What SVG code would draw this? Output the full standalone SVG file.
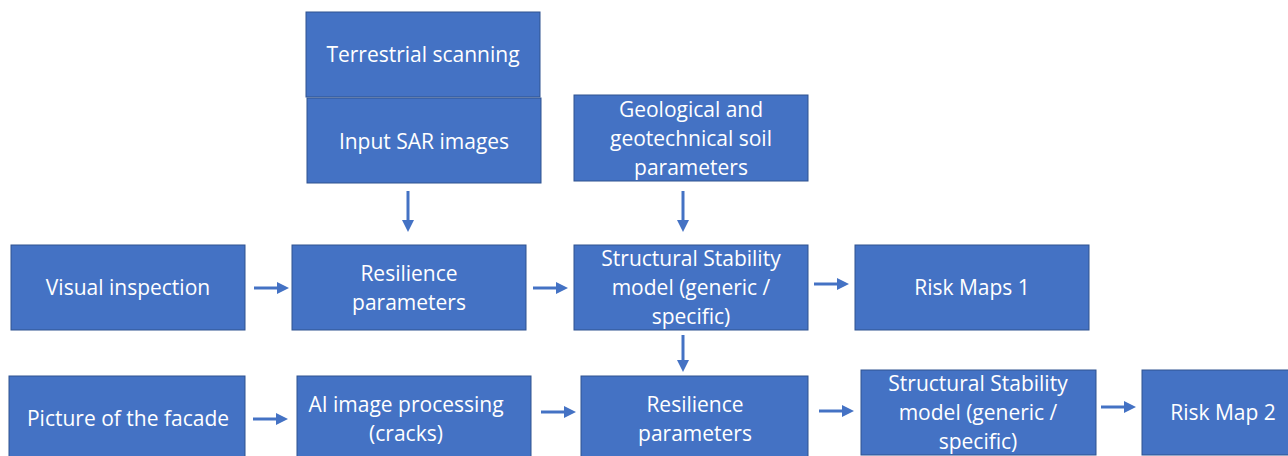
<svg xmlns="http://www.w3.org/2000/svg" width="1288" height="456" viewBox="0 0 1288 456">
<style>
.box{fill:#4472C4;stroke:#2F528F;stroke-width:1}
.t{fill:#FFFFFF;font-family:"Open Sans","Liberation Sans",sans-serif;font-size:21px;text-anchor:middle}
.c{stroke:#4472C4;stroke-width:3;fill:none}
</style>
<defs>
<marker id="ah" markerWidth="4" markerHeight="4" refX="2" refY="2" orient="auto" markerUnits="strokeWidth">
<path d="M0,0 L4,2 L0,4 Z" fill="#4472C4"/>
</marker>
</defs>
<rect width="1288" height="456" fill="#FFFFFF"/>
<g id="terrestrial"><rect class="box" x="306" y="12" width="234" height="85"/><text class="t" x="423" y="62">Terrestrial scanning</text></g>
<g id="sar"><rect class="box" x="307" y="98" width="234" height="85"/><text class="t" x="424" y="149">Input SAR images</text></g>
<g id="geo"><rect class="box" x="574" y="95" width="234" height="86"/><text class="t" x="691" y="117">Geological and</text><text class="t" x="691" y="146">geotechnical soil</text><text class="t" x="691" y="175">parameters</text></g>
<g id="visual"><rect class="box" x="11" y="245" width="234" height="85"/><text class="t" x="128" y="295">Visual inspection</text></g>
<g id="res1"><rect class="box" x="292" y="245" width="234" height="85"/><text class="t" x="409" y="281">Resilience</text><text class="t" x="409" y="310">parameters</text></g>
<g id="ss1"><rect class="box" x="574" y="245" width="234" height="85"/><text class="t" x="691" y="266">Structural Stability</text><text class="t" x="691" y="295">model (generic /</text><text class="t" x="691" y="324">specific)</text></g>
<g id="risk1"><rect class="box" x="855" y="245" width="234" height="85"/><text class="t" x="972" y="295">Risk Maps 1</text></g>
<g id="picture"><rect class="box" x="9" y="376" width="236" height="90"/><text class="t" x="128" y="426">Picture of the facade</text></g>
<g id="ai"><rect class="box" x="297" y="376" width="234" height="90"/><text class="t" x="406" y="412">AI image processing</text><text class="t" x="406" y="441">(cracks)</text></g>
<g id="res2"><rect class="box" x="581" y="376" width="227" height="90"/><text class="t" x="695" y="412">Resilience</text><text class="t" x="695" y="441">parameters</text></g>
<g id="ss2"><rect class="box" x="861" y="370" width="235" height="85"/><text class="t" x="978" y="391">Structural Stability</text><text class="t" x="978" y="420">model (generic /</text><text class="t" x="978" y="449">specific)</text></g>
<g id="risk2"><rect class="box" x="1142" y="370" width="160" height="85"/><text class="t" x="1223" y="420">Risk Map 2</text></g>
<g id="connectors">
<line class="c" x1="408" y1="191" x2="408" y2="226" marker-end="url(#ah)"/>
<line class="c" x1="683" y1="191" x2="683" y2="226" marker-end="url(#ah)"/>
<line class="c" x1="254" y1="288" x2="283" y2="288" marker-end="url(#ah)"/>
<line class="c" x1="533" y1="288" x2="562" y2="288" marker-end="url(#ah)"/>
<line class="c" x1="814" y1="284" x2="843" y2="284" marker-end="url(#ah)"/>
<line class="c" x1="683" y1="335" x2="683" y2="366" marker-end="url(#ah)"/>
<line class="c" x1="253" y1="419" x2="282" y2="419" marker-end="url(#ah)"/>
<line class="c" x1="541" y1="412" x2="570" y2="412" marker-end="url(#ah)"/>
<line class="c" x1="819" y1="411" x2="848" y2="411" marker-end="url(#ah)"/>
<line class="c" x1="1101" y1="407" x2="1130" y2="407" marker-end="url(#ah)"/>
</g>
</svg>
